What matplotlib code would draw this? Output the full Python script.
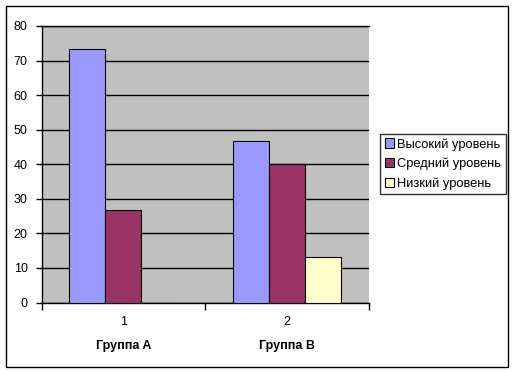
import matplotlib
matplotlib.use("Agg")
import matplotlib.pyplot as plt
from matplotlib.patches import Rectangle, Patch
import numpy as np

plt.rcParams['font.family'] = ['Liberation Sans', 'DejaVu Sans']

categories = ["1", "2"]
group_labels = ["Группа A", "Группа B"]
series_names = ["Высокий уровень", "Средний уровень", "Низкий уровень"]
high = [73.3, 46.7]
mid = [26.7, 40.0]
low = [0.0, 13.3]
colors = ["#9999FF", "#993366", "#FFFFCC"]

W, H = 515, 373
fig = plt.figure(figsize=(W / 100, H / 100), dpi=100)
fig.patch.set_facecolor("white")
fig.patches.append(Rectangle((5.5 / W, 1 - 366.5 / H), 502 / W, 361 / H,
                             transform=fig.transFigure, fill=False,
                             edgecolor="black", lw=1))

ax = fig.add_axes([41.5 / W, 1 - 302.5 / H, (369 - 41.5) / W, (302.5 - 26) / H])
ax.set_facecolor("#C0C0C0")

x = np.arange(len(categories))
bw = 36 / 164
for i, (vals, c, name) in enumerate(zip([high, mid, low], colors, series_names)):
    ax.bar(x + (i - 1) * bw, vals, width=bw, color=c, edgecolor="black",
           linewidth=0.8, label=name, zorder=3)

ax.set_xlim(-0.5, 1.5)
ax.set_ylim(0, 80)
ax.set_yticks(np.arange(0, 81, 10))
ax.yaxis.grid(True, color="black", lw=1, zorder=1)
ax.set_axisbelow(True)
ax.tick_params(axis="y", length=4, width=1, pad=6, labelsize=9, direction="out")

ax.set_xticks(x)
ax.set_xticklabels(categories, fontsize=9)
ax.tick_params(axis="x", which="major", length=0, pad=10)
ax.set_xticks([-0.5, 0.5, 1.5], minor=True)
ax.tick_params(axis="x", which="minor", length=5, width=1, direction="out")

ax.spines["right"].set_visible(False)
for s in ["left", "bottom", "top"]:
    ax.spines[s].set_color("black")
    ax.spines[s].set_linewidth(1)

for xi, g in zip(x, group_labels):
    ax.text(xi, -44 / (302.5 - 26) * 80, g, ha="center", va="center",
            fontsize=9, fontweight="bold", transform=ax.transData, clip_on=False)

handles = [Patch(facecolor=c, edgecolor="black", lw=0.8) for c in colors]
leg = fig.legend(handles, series_names, loc="upper left",
                 bbox_to_anchor=(380 / W, 1 - 133.5 / H), borderaxespad=0,
                 fontsize=9.3, frameon=True, fancybox=False, edgecolor="black",
                 handlelength=0.7, handleheight=0.7, handletextpad=0.3,
                 labelspacing=0.55, borderpad=0.35)
leg.get_frame().set_linewidth(1)

fig.savefig("out.png", dpi=100)
